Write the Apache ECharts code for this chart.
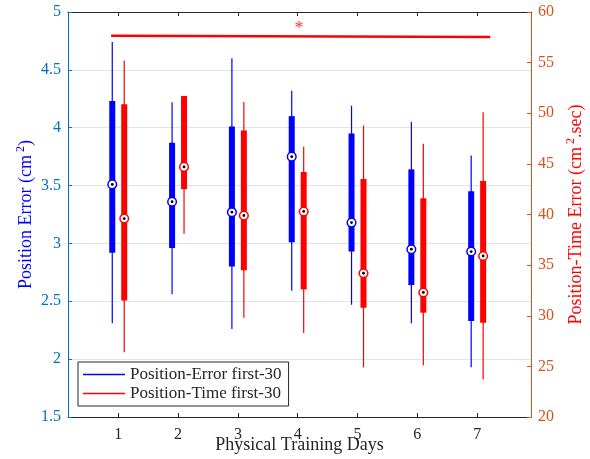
<!DOCTYPE html>
<html>
<head>
<meta charset="utf-8">
<script src="https://cdn.jsdelivr.net/npm/echarts@6/dist/echarts.min.js"></script>
<style>
  html, body { margin: 0; padding: 0; background: #fff; }
  #chart { width: 590px; height: 459px; }
</style>
</head>
<body>
<div id="chart"></div>
<script>
// Training days
const days = [1, 2, 3, 4, 5, 6, 7];

// Position error (cm^2): whisker low, Q1, median, Q3, whisker high
const peLow  = [2.31, 2.56, 2.26, 2.59, 2.47, 2.31, 1.93];
const peQ1   = [2.92, 2.96, 2.80, 3.01, 2.93, 2.64, 2.33];
const peMed  = [3.51, 3.36, 3.27, 3.75, 3.18, 2.95, 2.93];
const peQ3   = [4.23, 3.87, 4.01, 4.10, 3.95, 3.64, 3.45];
const peHigh = [4.74, 4.22, 4.60, 4.32, 4.19, 4.05, 3.76];

// Position-time error (cm^2.sec)
const ptLow  = [26.4, 38.1, 29.8, 28.3, 24.9, 25.1, 23.7];
const ptQ1   = [31.5, 42.5, 34.5, 32.6, 30.8, 30.3, 29.3];
const ptMed  = [39.6, 44.7, 39.9, 40.3, 34.2, 32.3, 35.9];
const ptQ3   = [50.9, 51.7, 48.3, 44.2, 43.5, 41.6, 43.3];
const ptHigh = [55.2, 51.7, 51.1, 46.7, 48.8, 47.0, 50.1];

// Significance bar (right axis) and its marker
const sigX = [0.88, 7.22];
const sigY = [57.66, 57.53];
const starDay = 4.02;
const starLevel = 58.3;

const FONT = 'Liberation Serif, Times New Roman, serif';
const BLUE = '#0000ff';
const RED = '#ff0000';

const peData = days.map((d, i) => [d - 0.1, peLow[i], peQ1[i], peMed[i], peQ3[i], peHigh[i]]);
const ptData = days.map((d, i) => [d + 0.1, ptLow[i], ptQ1[i], ptMed[i], ptQ3[i], ptHigh[i]]);

function renderBox(params, api) {
  const x = api.value(0);
  const lo = api.coord([x, api.value(1)]);
  const q1 = api.coord([x, api.value(2)]);
  const md = api.coord([x, api.value(3)]);
  const q3 = api.coord([x, api.value(4)]);
  const hi = api.coord([x, api.value(5)]);
  const color = api.visual('color');
  return {
    type: 'group',
    children: [
      { type: 'line', shape: { x1: lo[0], y1: lo[1], x2: hi[0], y2: hi[1] },
        style: { stroke: color, lineWidth: 1.2 } },
      { type: 'rect', shape: { x: q3[0] - 3, y: q3[1], width: 6, height: q1[1] - q3[1] },
        style: { fill: color } },
      { type: 'circle', shape: { cx: md[0], cy: md[1], r: 4.3 },
        style: { fill: '#fff', stroke: color, lineWidth: 1.5 } },
      { type: 'circle', shape: { cx: md[0], cy: md[1], r: 1.4 },
        style: { fill: '#000' } }
    ]
  };
}

const chart = echarts.init(document.getElementById('chart'), null, { renderer: 'canvas' });

const xBase = {
  type: 'value', min: 0.16, max: 7.9,
  splitLine: { show: false },
  axisLine: { lineStyle: { color: '#262626', width: 1 } },
  axisTick: { inside: true, length: 4, customValues: days, lineStyle: { color: '#262626' } }
};

// Tick labels drawn through a rich style so the serif face is applied
const tickText = (color) => ({
  margin: 7,
  formatter: (v) => '{n|' + v + '}',
  rich: { n: { fontFamily: FONT, fontSize: 16, color: color } }
});

chart.setOption({
  animation: false,
  backgroundColor: '#fff',
  textStyle: { fontFamily: FONT },
  grid: { left: 68, top: 12, width: 463, height: 405, containLabel: false, outerBoundsMode: 'none' },
  xAxis: [
    Object.assign({}, xBase, {
      position: 'bottom',
      name: 'Physical Training Days',
      nameLocation: 'middle',
      nameGap: 19,
      nameMoveOverlap: false,
      nameTextStyle: { fontFamily: FONT, fontSize: 18, color: '#262626' },
      axisLabel: Object.assign(tickText('#262626'), { customValues: days, margin: 10 })
    }),
    Object.assign({}, xBase, {
      position: 'top',
      axisLabel: { show: false }
    })
  ],
  yAxis: [
    {
      type: 'value', min: 1.5, max: 5, interval: 0.5, position: 'left',
      name: '{t|Position Error (cm}{s|2}{t|)}',
      nameLocation: 'middle', nameGap: 31,
      nameMoveOverlap: false,
      nameTextStyle: {
        color: BLUE,
        rich: {
          t: { fontFamily: FONT, fontSize: 18, color: BLUE },
          s: { fontFamily: FONT, fontSize: 12, color: BLUE, verticalAlign: 'top', padding: [0, 0, 10, 3] }
        }
      },
      axisLine: { show: true, lineStyle: { color: '#0072bd', width: 1 } },
      axisTick: { show: true, inside: true, length: 4, lineStyle: { color: '#0072bd' } },
      axisLabel: tickText('#0072bd'),
      splitLine: { show: true, lineStyle: { color: '#dbe6ef', width: 1 } }
    },
    {
      type: 'value', min: 20, max: 60, interval: 5, position: 'right',
      name: '{t|Position-Time Error (cm}{s|2}{t|.sec)}',
      nameLocation: 'middle', nameGap: 34, nameRotate: 90,
      nameMoveOverlap: false,
      nameTextStyle: {
        color: RED,
        rich: {
          t: { fontFamily: FONT, fontSize: 18, color: RED },
          s: { fontFamily: FONT, fontSize: 12, color: RED, verticalAlign: 'top', padding: [0, 0, 10, 3] }
        }
      },
      axisLine: { show: true, lineStyle: { color: '#d95319', width: 1 } },
      axisTick: { show: true, inside: true, length: 4, lineStyle: { color: '#d95319' } },
      axisLabel: tickText('#d95319'),
      splitLine: { show: false }
    }
  ],
  legend: {
    orient: 'vertical',
    left: 78, top: 362,
    padding: [4, 7, 4, 5],
    itemGap: 2,
    itemWidth: 42, itemHeight: 1.5,
    backgroundColor: '#fff',
    borderColor: '#262626', borderWidth: 1, borderRadius: 0,
    textStyle: { fontFamily: FONT, fontSize: 17, color: '#262626', lineHeight: 17 },
    data: [
      { name: 'Position-Error first-30', icon: 'rect' },
      { name: 'Position-Time first-30', icon: 'rect' }
    ]
  },
  series: [
    {
      name: 'Position-Error first-30',
      type: 'custom', xAxisIndex: 0, yAxisIndex: 0,
      itemStyle: { color: BLUE },
      renderItem: renderBox,
      encode: { x: 0, y: [1, 2, 3, 4, 5] },
      data: peData,
      z: 3
    },
    {
      name: 'Position-Time first-30',
      type: 'custom', xAxisIndex: 0, yAxisIndex: 1,
      itemStyle: { color: RED },
      renderItem: renderBox,
      encode: { x: 0, y: [1, 2, 3, 4, 5] },
      data: ptData,
      z: 3
    },
    {
      name: 'significance',
      type: 'line', xAxisIndex: 0, yAxisIndex: 1,
      symbol: 'none',
      lineStyle: { color: RED, width: 2.5 },
      data: sigX.map((x, i) => [x, sigY[i]]),
      z: 4
    },
    {
      name: 'star',
      type: 'scatter', xAxisIndex: 0, yAxisIndex: 1,
      symbolSize: 0,
      label: { show: true, position: 'inside', formatter: '*', fontFamily: FONT, fontSize: 18, color: RED },
      data: [[starDay, starLevel]],
      z: 4
    }
  ]
});
</script>
</body>
</html>
